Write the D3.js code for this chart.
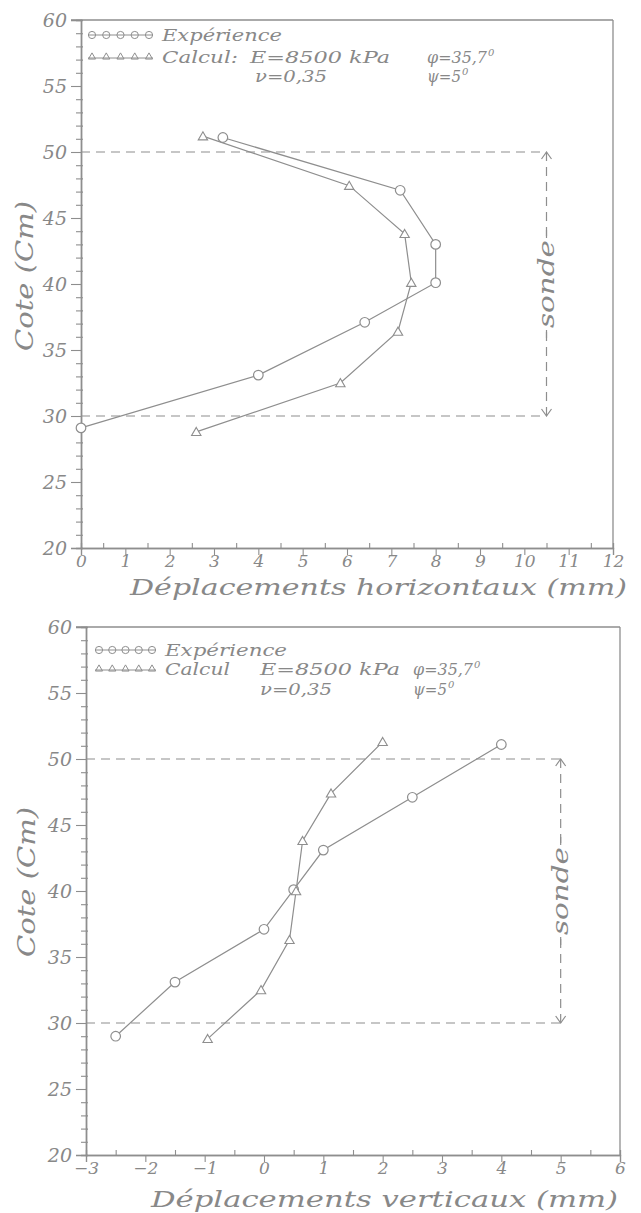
<!DOCTYPE html>
<html>
<head>
<meta charset="utf-8">
<script src="https://cdn.jsdelivr.net/npm/d3@7"></script>
<style>
html,body{margin:0;padding:0;background:#fff;}
svg{display:block;}
</style>
</head>
<body>
<svg id="chart" width="641" height="1213"></svg>
<script>
// ---------- DATA ----------
// Top chart: horizontal displacements (mm) vs cote (cm)
const coteExpH  = [29.1, 33.1, 37.1, 40.1, 43.0, 47.1, 51.1];
const dispExpH  = [0.0, 4.0, 6.4, 8.0, 8.0, 7.2, 3.2];
const coteCalcH = [28.8, 32.5, 36.4, 40.1, 43.8, 47.45, 51.2];
const dispCalcH = [2.6, 5.85, 7.15, 7.45, 7.3, 6.05, 2.75];

// Bottom chart: vertical displacements (mm) vs cote (cm)
const coteExpV  = [29.0, 33.1, 37.1, 40.1, 43.1, 47.1, 51.1];
const dispExpV  = [-2.5, -1.5, 0.0, 0.5, 1.0, 2.5, 4.0];
const coteCalcV = [28.8, 32.5, 36.3, 40.0, 43.8, 47.4, 51.3];
const dispCalcV = [-0.95, -0.05, 0.43, 0.54, 0.65, 1.13, 2.0];

// Axis tick values
const yTicks = [20, 25, 30, 35, 40, 45, 50, 55, 60];
const xTicksH = [0,1,2,3,4,5,6,7,8,9,10,11,12];
const xTicksV = [-3,-2,-1,0,1,2,3,4,5,6];

// Probe zone (sonde) limits
const sondeLimits = [30, 50];
const sondeXH = 10.5;
const sondeXV = 5.0;

// Texts
const legendExp = "Expérience";
const xTitleH = "Déplacements horizontaux (mm)";
const xTitleV = "Déplacements verticaux (mm)";
const yTitle = "Cote (Cm)";

// ---------- DRAWING ----------
const COL = "#8e8e8e";
const TXT = "#888888";
const SERIF = "'DejaVu Serif', 'Liberation Serif', serif";
const svg = d3.select("#chart");

function zip(xs, ys){ return xs.map((x,i)=>[x, ys[i]]); }

function drawPanel(cfg){
  const g = svg.append("g");
  const x = d3.scaleLinear().domain(cfg.xDomain).range([cfg.left, cfg.right]);
  const y = d3.scaleLinear().domain([20, 60]).range([cfg.bottom, cfg.top]);

  // frame top & right
  g.append("line").attr("x1", x(cfg.xDomain[0]) - 10).attr("x2", x(cfg.xDomain[1]))
    .attr("y1", y(60)).attr("y2", y(60)).attr("stroke", COL).attr("stroke-width", 1.3);
  g.append("line").attr("x1", x(cfg.xDomain[1])).attr("x2", x(cfg.xDomain[1]))
    .attr("y1", y(60)).attr("y2", y(20)).attr("stroke", COL).attr("stroke-width", 1.3);

  // Y axis (major)
  const yAx = g.append("g").attr("transform", `translate(${cfg.left},0)`)
    .call(d3.axisLeft(y).tickValues(yTicks).tickSize(10).tickPadding(6).tickFormat(d3.format("d")));
  // Y minor
  const yMinor = d3.range(21, 60).filter(v => v % 5 !== 0);
  g.append("g").attr("transform", `translate(${cfg.left},0)`)
    .call(d3.axisLeft(y).tickValues(yMinor).tickSize(5).tickFormat(""));
  g.append("g").attr("transform", `translate(${cfg.left},0)`)
    .call(d3.axisRight(y).tickValues(yMinor).tickSize(2).tickFormat(""));

  // X axis (major)
  const xAx = g.append("g").attr("transform", `translate(0,${cfg.bottom})`)
    .call(d3.axisBottom(x).tickValues(cfg.xTicks).tickSize(7).tickPadding(4).tickFormat(d3.format("d")));
  // X minor (halves)
  const xMinor = d3.range(cfg.xDomain[0] + 0.5, cfg.xDomain[1], 1);
  g.append("g").attr("transform", `translate(0,${cfg.bottom})`)
    .call(d3.axisTop(x).tickValues(xMinor).tickSize(5).tickFormat(""));

  g.selectAll(".domain").attr("stroke", COL).attr("stroke-width", 1.3);
  g.selectAll(".tick line").attr("stroke", COL).attr("stroke-width", 1.1);
  g.selectAll(".tick text").attr("fill", TXT).attr("font-family", SERIF)
    .attr("font-style", "italic").attr("font-size", 19);
  yAx.selectAll(".tick text").attr("x", -14).attr("dy", "0.35em");
  xAx.selectAll(".tick text").attr("y", 7).attr("dy", "0.72em").attr("font-size", 17);

  // Dashed sonde lines
  const xs = x(cfg.sondeX);
  sondeLimits.forEach(v => {
    g.append("line").attr("x1", cfg.left).attr("x2", xs).attr("y1", y(v)).attr("y2", y(v))
      .attr("stroke", COL).attr("stroke-width", 1.2).attr("stroke-dasharray", "9,6");
  });
  g.append("line").attr("x1", xs).attr("x2", xs).attr("y1", y(sondeLimits[1])).attr("y2", y(sondeLimits[0]))
    .attr("stroke", COL).attr("stroke-width", 1.2).attr("stroke-dasharray", "9,6");
  // arrow heads
  g.append("path").attr("d", `M${xs-5},${y(sondeLimits[1])+7} L${xs},${y(sondeLimits[1])} L${xs+5},${y(sondeLimits[1])+7}`)
    .attr("fill", "none").attr("stroke", COL).attr("stroke-width", 1.2);
  g.append("path").attr("d", `M${xs-5},${y(sondeLimits[0])-7} L${xs},${y(sondeLimits[0])} L${xs+5},${y(sondeLimits[0])-7}`)
    .attr("fill", "none").attr("stroke", COL).attr("stroke-width", 1.2);
  const yc = y((sondeLimits[0] + sondeLimits[1]) / 2);
  g.append("rect").attr("x", xs - 12).attr("y", yc - 47).attr("width", 24).attr("height", 94).attr("fill", "#fff");
  g.append("line").attr("x1", xs).attr("x2", xs).attr("y1", yc - 54).attr("y2", yc - 46)
    .attr("stroke", COL).attr("stroke-width", 1.2);
  g.append("line").attr("x1", xs).attr("x2", xs).attr("y1", yc + 46).attr("y2", yc + 54)
    .attr("stroke", COL).attr("stroke-width", 1.2);
  g.append("text").attr("transform", `translate(${xs + 7},${yc}) rotate(-90)`)
    .attr("text-anchor", "middle").attr("font-family", SERIF).attr("font-style", "italic")
    .attr("font-size", 23).attr("fill", TXT).attr("textLength", 88).attr("lengthAdjust", "spacingAndGlyphs")
    .text("sonde");

  // Data lines
  const line = d3.line().x(d => x(d[0])).y(d => y(d[1]));
  const exp = zip(cfg.dispExp, cfg.coteExp);
  const calc = zip(cfg.dispCalc, cfg.coteCalc);
  [exp, calc].forEach(data => {
    g.append("path").datum(data).attr("d", line).attr("fill", "none")
      .attr("stroke", COL).attr("stroke-width", 1.2);
  });
  g.selectAll(".mexp").data(exp).join("circle").attr("class", "mexp")
    .attr("cx", d => x(d[0])).attr("cy", d => y(d[1])).attr("r", 4.8)
    .attr("fill", "#fff").attr("stroke", COL).attr("stroke-width", 1.2);
  const tri = d3.symbol().type(d3.symbolTriangle).size(38);
  g.selectAll(".mcalc").data(calc).join("path").attr("class", "mcalc")
    .attr("transform", d => `translate(${x(d[0])},${y(d[1]) + 1})`).attr("d", tri)
    .attr("fill", "#fff").attr("stroke", COL).attr("stroke-width", 1.1);

  // Axis titles
  g.append("text").attr("x", cfg.xTitle.x1).attr("y", cfg.xTitle.y)
    .attr("font-family", SERIF).attr("font-style", "italic").attr("font-size", 23)
    .attr("fill", TXT).attr("textLength", cfg.xTitle.x2 - cfg.xTitle.x1).attr("lengthAdjust", "spacingAndGlyphs")
    .text(cfg.xTitle.text);
  g.append("text").attr("transform", `translate(${cfg.yTitle.x},${cfg.yTitle.y}) rotate(-90)`)
    .attr("text-anchor", "middle").attr("font-family", SERIF).attr("font-style", "italic")
    .attr("font-size", 24).attr("fill", TXT).attr("textLength", 150).attr("lengthAdjust", "spacingAndGlyphs")
    .text(yTitle);

  // Legend
  const L = cfg.legend;
  function sample(yy, kind){
    g.append("line").attr("x1", L.sx1).attr("x2", L.sx2).attr("y1", yy).attr("y2", yy)
      .attr("stroke", COL).attr("stroke-width", 1);
    const pts = d3.range(5).map(i => L.sx1 + 4 + i * (L.sx2 - L.sx1 - 8) / 4);
    if (kind === "c") {
      g.selectAll(null).data(pts).join("circle").attr("cx", d => d).attr("cy", yy).attr("r", 3.6)
        .attr("fill", "none").attr("stroke", COL).attr("stroke-width", 1);
    } else {
      const t = d3.symbol().type(d3.symbolTriangle).size(22);
      g.selectAll(null).data(pts).join("path").attr("transform", d => `translate(${d},${yy - 1})`).attr("d", t)
        .attr("fill", "none").attr("stroke", COL).attr("stroke-width", 1);
    }
  }
  sample(L.y1, "c");
  sample(L.y2, "t");
  const FS = 16;
  const lt = (txt, xx, yy, w, fs) => {
    const t = g.append("text").attr("x", xx).attr("y", yy).attr("font-family", SERIF)
      .attr("font-style", "italic").attr("font-size", fs || FS).attr("fill", TXT).text(txt);
    if (w) t.attr("textLength", w).attr("lengthAdjust", "spacingAndGlyphs");
    return t;
  };
  lt(legendExp, L.tx, L.y1 + 6, L.expW);
  lt(L.calcText, L.tx, L.y2 + 5, L.calcW);
  lt("E=8500 kPa", L.ex, L.y2 + 5, L.eW);
  lt("φ=35,7", L.px, L.y2 + 5, 60);
  lt("0", L.px + 61, L.y2 - 2, null, 10);
  lt("ν=0,35", L.nx, L.y2 + L.gap, 72);
  lt("ψ=5", L.px, L.y2 + L.gap, 34);
  lt("0", L.px + 35, L.y2 + L.gap - 7, null, 10);
}

drawPanel({
  xDomain: [0, 12], xTicks: xTicksH, left: 81, right: 613, top: 20, bottom: 548,
  sondeX: sondeXH,
  dispExp: dispExpH, coteExp: coteExpH, dispCalc: dispCalcH, coteCalc: coteCalcH,
  xTitle: { text: xTitleH, x1: 130, x2: 627, y: 595 },
  yTitle: { x: 33, y: 276 },
  legend: { sx1: 88, sx2: 153, y1: 35, y2: 58, tx: 162, expW: 120, calcText: "Calcul:", calcW: 76,
            ex: 250, eW: 140, px: 427, nx: 255, gap: 24 }
});

drawPanel({
  xDomain: [-3, 6], xTicks: xTicksV, left: 86, right: 620, top: 627, bottom: 1155,
  sondeX: sondeXV,
  dispExp: dispExpV, coteExp: coteExpV, dispCalc: dispCalcV, coteCalc: coteCalcV,
  xTitle: { text: xTitleV, x1: 151, x2: 618, y: 1207 },
  yTitle: { x: 35, y: 882 },
  legend: { sx1: 95, sx2: 156, y1: 650, y2: 670, tx: 165, expW: 122, calcText: "Calcul", calcW: 65,
            ex: 260, eW: 140, px: 413, nx: 260, gap: 25 }
});
</script>
</body>
</html>
